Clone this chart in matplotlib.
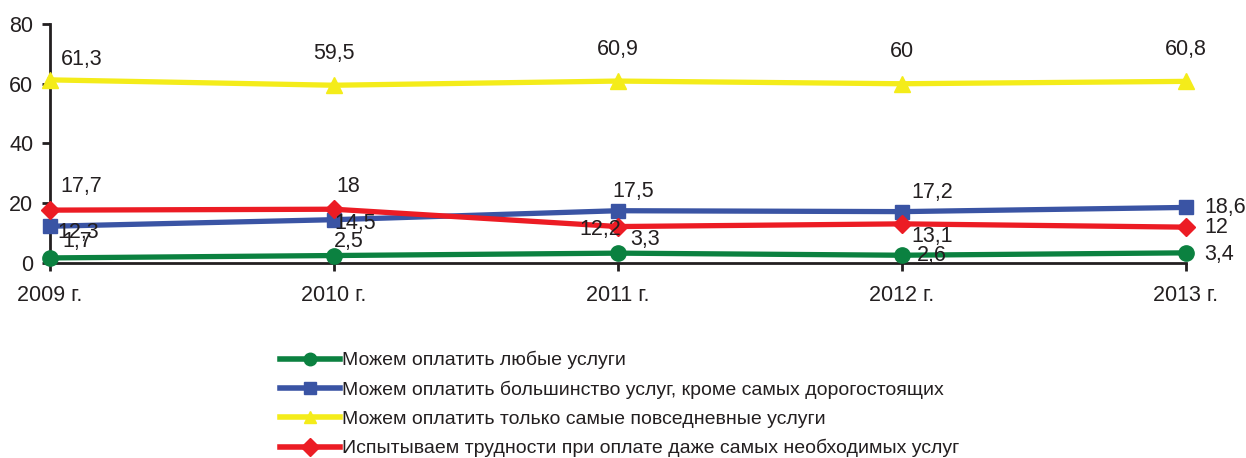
import matplotlib
matplotlib.use('Agg')
import matplotlib.pyplot as plt
from matplotlib.lines import Line2D

plt.rcParams['font.family'] = ['Liberation Sans', 'DejaVu Sans']

years = ['2009 г.', '2010 г.', '2011 г.', '2012 г.', '2013 г.']
any_services = [1.7, 2.5, 3.3, 2.6, 3.4]
most_services = [12.3, 14.5, 17.5, 17.2, 18.6]
daily_services = [61.3, 59.5, 60.9, 60.0, 60.8]
hard_to_pay = [17.7, 18.0, 12.2, 13.1, 12.0]

labels = [
    'Можем оплатить любые услуги',
    'Можем оплатить большинство услуг, кроме самых дорогостоящих',
    'Можем оплатить только самые повседневные услуги',
    'Испытываем трудности при оплате даже самых необходимых услуг',
]

colors = ['#0b8140', '#3a54a4', '#f4ec1a', '#ec1c24']
markers = ['o', 's', '^', 'D']
msizes = [11, 10.5, 11, 9]
text_color = '#231f20'

# label offsets in points (dx, dy, ha), text vertically centred
offsets = [
    [(9, 12, 'left'), (0, 10, 'left'), (9, 10, 'left'), (10.5, 0, 'left'), (13, -1, 'left')],
    [(5, -4.5, 'left'), (0, -3, 'left'), (-4, 13.5, 'left'), (7, 14, 'left'), (13, 0, 'left')],
    [(7.5, 15, 'left'), (0, 23, 'center'), (0, 23, 'center'), (0, 23, 'center'), (0, 23, 'center')],
    [(7.5, 17, 'left'), (1.5, 16.5, 'left'), (2, -2, 'right'), (7, -9, 'left'), (13, 0, 'left')],
]

series = [any_services, most_services, daily_services, hard_to_pay]

fig = plt.figure(figsize=(12.46, 4.58), dpi=100)
ax = fig.add_axes([50 / 1246, 1 - 263 / 458, 1136 / 1246, 239 / 458])

x = list(range(len(years)))
for vals, c, m, ms, offs in zip(series, colors, markers, msizes, offsets):
    ax.plot(x, vals, color=c, lw=3.8, marker=m, ms=ms, clip_on=False, zorder=3)
    for xi, v, (dx, dy, ha) in zip(x, vals, offs):
        txt = f'{v:g}'.replace('.', ',')
        ax.annotate(txt, (xi, v), xytext=(dx, dy), textcoords='offset points',
                    ha=ha, va='center', fontsize=15.5, color=text_color, zorder=4)

ax.set_xlim(0, 4)
ax.set_ylim(0, 80)
ax.set_yticks([0, 20, 40, 60, 80])
ax.set_xticks(x)
ax.set_xticklabels(years)
for s in ['top', 'right']:
    ax.spines[s].set_visible(False)
for s in ['left', 'bottom']:
    ax.spines[s].set_linewidth(2)
    ax.spines[s].set_color(text_color)
ax.tick_params(axis='y', length=6, width=2, pad=6, labelsize=15.5, colors=text_color)
ax.tick_params(axis='x', length=6, width=2, pad=10, labelsize=15.5, colors=text_color)

handles = [Line2D([0], [0], color=c, lw=4, marker=m, ms=9)
           for c, m in zip(colors, markers)]
fig.legend(handles, labels, loc='upper left', bbox_to_anchor=(280 / 1246, 1 - 351 / 458),
           frameon=False, fontsize=14, handlelength=3.1, handletextpad=0.1,
           labelspacing=0.58, borderpad=0, borderaxespad=0, labelcolor=text_color)

fig.savefig('out.png', dpi=100)
